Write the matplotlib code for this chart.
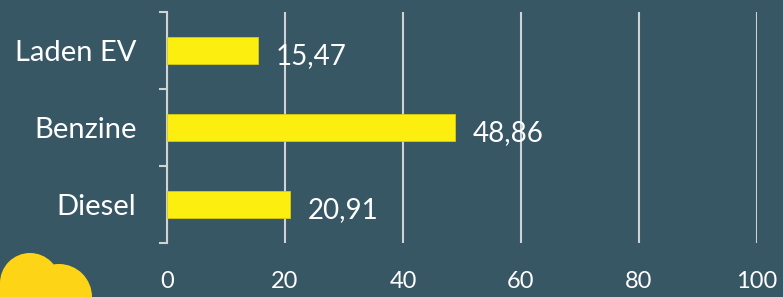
import numpy as np
import matplotlib.pyplot as plt
from matplotlib.patches import Circle, Rectangle

# categories and values (per 100 km)
categories = ["Laden EV", "Benzine", "Diesel"]
values = [15.47, 48.86, 20.91]
value_labels = ["15,47", "48,86", "20,91"]
xticks = [0, 20, 40, 60, 80, 100]

bg = "#385764"
yellow = "#fcee0e"
cloud = "#fdd516"
grey = "#cfd3d6"

plt.rcParams["font.family"] = ["Lato", "DejaVu Sans"]

fig = plt.figure(figsize=(7.83, 2.97), dpi=100, facecolor=bg)

# decorative cloud in the lower left corner (pixel coordinates)
deco = fig.add_axes([0, 0, 1, 1], zorder=0)
deco.set_xlim(0, 783)
deco.set_ylim(297, 0)
deco.axis("off")
deco.add_patch(Circle((30, 283), 30, color=cloud, lw=0))
deco.add_patch(Circle((59, 297), 33, color=cloud, lw=0))
deco.add_patch(Rectangle((0, 283), 40, 20, color=cloud, lw=0))

ax = fig.add_axes([167 / 783, 1 - 243 / 297, 590 / 783, 231 / 297], zorder=1)
ax.set_facecolor("none")

y = np.arange(len(categories))
ax.barh(y, values, height=0.34, color=yellow, edgecolor="#d8cc10", lw=0.6, zorder=3)
for yi, v, lab in zip(y, values, value_labels):
    ax.text(v + 3, yi + 0.07, lab, color="white", fontsize=20, va="center", ha="left", zorder=4)

ax.set_xlim(0, 100)
ax.set_ylim(2.5, -0.5)
ax.set_xticks(xticks)
ax.set_xticklabels([str(t) for t in xticks])
ax.set_yticks(y)
ax.set_yticklabels(categories)
ax.set_yticks([-0.5, 0.5, 1.5, 2.5], minor=True)

ax.grid(axis="x", color=grey, lw=1.5, zorder=1)
for s in ["top", "right", "bottom"]:
    ax.spines[s].set_visible(False)
ax.spines["left"].set_color(grey)
ax.spines["left"].set_linewidth(1.5)

ax.tick_params(axis="x", length=0, pad=20, labelsize=17, labelcolor="white")
ax.tick_params(axis="y", which="major", length=0, pad=22, labelsize=21, labelcolor="white")
ax.tick_params(axis="y", which="minor", length=6, width=1.5, color=grey)

fig.savefig("out.png", dpi=100, facecolor=bg)
